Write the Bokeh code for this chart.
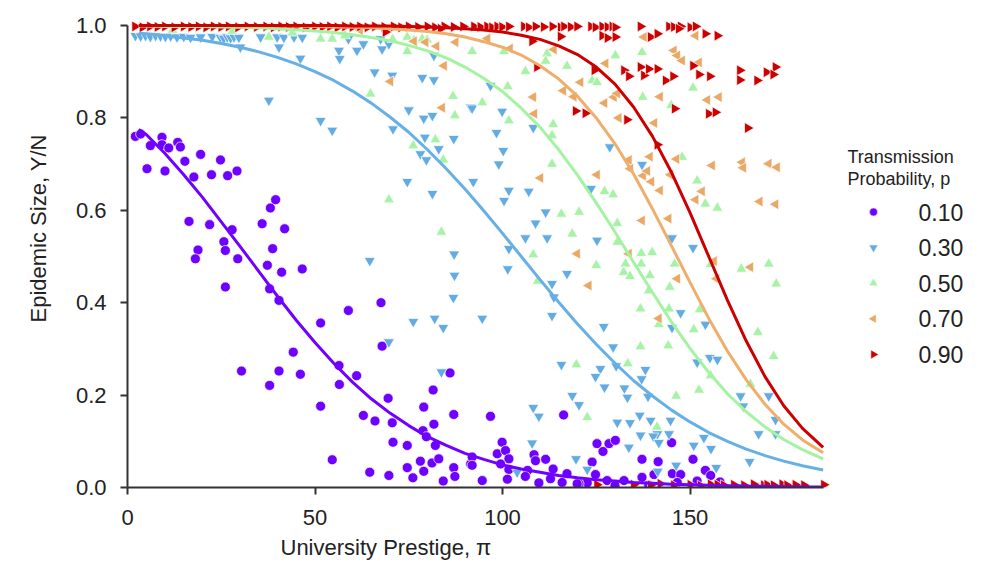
from bokeh.plotting import figure
from bokeh.models import Range1d, FixedTicker, Label, Title
from bokeh.embed import file_html
from bokeh.resources import INLINE
import math

# ---------------- data ----------------
x_ticks = [0, 50, 100, 150]
y_ticks = [0.0, 0.2, 0.4, 0.6, 0.8, 1.0]
y_tick_labels = ["0.0", "0.2", "0.4", "0.6", "0.8", "1.0"]
series_labels = ["0.10", "0.30", "0.50", "0.70", "0.90"]

curve_x = [3, 5, 10, 15, 20, 25, 30, 35, 40, 45, 50, 55, 60, 65, 70, 75, 80, 85, 90, 95, 100,
           105, 110, 115, 120, 125, 130, 135, 140, 145, 150, 155, 160, 165, 170, 175, 180, 185.5]
curve_p10 = [0.775, 0.764, 0.723, 0.677, 0.628, 0.575, 0.522, 0.468, 0.414, 0.362, 0.314, 0.269,
             0.228, 0.192, 0.161, 0.134, 0.110, 0.091, 0.074, 0.061, 0.049, 0.040, 0.033, 0.026,
             0.021, 0.017, 0.014, 0.011, 0.009, 0.007, 0.006, 0.005, 0.004, 0.003, 0.0025, 0.002,
             0.0016, 0.0013]
curve_p30 = [0.983, 0.982, 0.978, 0.973, 0.968, 0.961, 0.953, 0.943, 0.931, 0.917, 0.900, 0.881,
             0.858, 0.832, 0.802, 0.769, 0.731, 0.690, 0.646, 0.599, 0.550, 0.500, 0.450, 0.401,
             0.354, 0.310, 0.269, 0.231, 0.198, 0.168, 0.142, 0.119, 0.100, 0.083, 0.069, 0.057,
             0.047, 0.038]
curve_p50 = [0.999, 0.999, 0.998, 0.998, 0.998, 0.997, 0.996, 0.995, 0.993, 0.991, 0.988, 0.985,
             0.980, 0.974, 0.967, 0.957, 0.945, 0.930, 0.910, 0.886, 0.857, 0.821, 0.780, 0.731,
             0.676, 0.616, 0.553, 0.487, 0.422, 0.359, 0.301, 0.249, 0.203, 0.164, 0.131, 0.104,
             0.082, 0.062]
curve_p70 = [1.000, 1.000, 1.000, 1.000, 1.000, 1.000, 0.999, 0.999, 0.999, 0.999, 0.998, 0.997,
             0.996, 0.995, 0.993, 0.990, 0.987, 0.982, 0.975, 0.965, 0.953, 0.936, 0.913, 0.884,
             0.847, 0.800, 0.744, 0.678, 0.603, 0.524, 0.444, 0.366, 0.295, 0.233, 0.180, 0.137,
             0.103, 0.075]
curve_p90 = [1.000, 1.000, 1.000, 1.000, 1.000, 1.000, 1.000, 1.000, 1.000, 1.000, 1.000, 1.000,
             0.999, 0.999, 0.999, 0.998, 0.997, 0.995, 0.993, 0.990, 0.986, 0.979, 0.970, 0.956,
             0.937, 0.910, 0.873, 0.823, 0.760, 0.683, 0.595, 0.500, 0.405, 0.317, 0.240, 0.177,
             0.128, 0.087]

p10_x = [2.1, 3.5, 6.1, 9.2, 9.2, 11.0, 13.4, 14.1, 5.2, 10.0, 15.3, 19.5, 17.7, 22.4, 24.8, 26.7,
         29.2, 16.4, 21.9, 27.9, 25.7, 18.8, 26.1, 35.9, 38.1, 39.5, 41.9, 38.7, 18.1, 29.4, 26.1,
         37.3, 41.1, 46.6, 37.9, 40.4, 51.5, 58.9, 67.6, 67.9, 44.2, 30.4, 40.4, 46.1, 37.9, 56.4,
         61.1, 56.5, 51.5, 69.5, 62.9, 66.0, 70.6, 79.0, 81.5, 87.0, 86.0, 81.7, 78.8, 79.7, 70.8,
         74.6, 82.1, 78.1, 81.2, 83.0, 54.6, 64.6, 69.7, 74.6, 76.1, 79.0, 84.2, 87.0, 87.3, 91.5,
         96.8, 116.3, 99.9, 98.6, 100.8, 101.7, 99.5, 101.7, 91.9, 91.9, 94.6, 101.3, 108.4, 108.8,
         111.5, 106.7, 106.1, 109.7, 112.8, 113.5, 117.2, 115.9, 125.2, 126.8, 128.4, 130.1, 123.9,
         124.8, 122.6, 120.4, 137.2, 141.5, 145.1, 150.8, 137.2, 140.4, 145.3, 147.5, 154.1, 155.5,
         132.4, 127.9, 146.6, 151.9, 119.9, 130.0, 139.0, 158.0]
p10_y = [0.760, 0.765, 0.740, 0.758, 0.742, 0.735, 0.747, 0.737, 0.690, 0.685, 0.706, 0.721, 0.672,
         0.677, 0.709, 0.675, 0.685, 0.576, 0.569, 0.558, 0.532, 0.514, 0.513, 0.571, 0.605, 0.623,
         0.560, 0.517, 0.495, 0.495, 0.434, 0.481, 0.466, 0.473, 0.430, 0.405, 0.356, 0.383, 0.400,
         0.306, 0.293, 0.252, 0.252, 0.245, 0.221, 0.264, 0.242, 0.223, 0.176, 0.193, 0.156, 0.144,
         0.140, 0.174, 0.211, 0.158, 0.248, 0.137, 0.123, 0.110, 0.098, 0.091, 0.091, 0.057, 0.053,
         0.062, 0.060, 0.033, 0.026, 0.043, 0.021, 0.035, 0.014, 0.043, 0.024, 0.051, 0.154, 0.157,
         0.098, 0.073, 0.080, 0.062, 0.051, 0.039, 0.066, 0.048, 0.015, 0.018, 0.071, 0.058, 0.061,
         0.037, 0.024, 0.010, 0.019, 0.040, 0.030, 0.011, 0.095, 0.078, 0.095, 0.102, 0.055, 0.028,
         0.010, 0.008, 0.061, 0.056, 0.097, 0.061, 0.022, 0.028, 0.030, 0.028, 0.037, 0.026, 0.015,
         0.015, 0.011, 0.014, 0.008, 0.004, 0.005, 0.012]

p30_x = [2.1, 3.5, 4.8, 6.1, 7.5, 8.8, 10.1, 11.5, 13.2, 15.0, 16.8, 19.5, 22.6, 24.8, 25.7, 26.6,
         27.5, 28.4, 29.7, 30.1, 35.5, 40.4, 39.9, 41.7, 44.4, 46.6, 46.1, 56.4, 56.6, 58.9, 61.2,
         62.9, 67.5, 67.9, 69.7, 81.7, 65.9, 70.6, 78.6, 81.7, 37.7, 51.5, 54.6, 70.8, 75.0, 79.0,
         81.3, 87.0, 79.3, 83.0, 78.1, 79.7, 74.6, 81.3, 91.5, 96.8, 91.9, 99.9, 98.4, 108.2, 100.2,
         99.0, 128.6, 137.2, 92.2, 101.7, 100.4, 107.0, 123.6, 111.5, 108.8, 106.1, 111.9, 125.2,
         101.7, 150.8, 145.2, 87.2, 86.9, 94.6, 101.4, 113.2, 113.7, 117.2, 113.2, 127.0, 129.5,
         130.3, 115.7, 126.1, 124.8, 127.2, 138.1, 137.1, 118.6, 120.4, 108.2, 109.7, 107.9, 119.6,
         122.6, 132.5, 133.3, 138.8, 130.6, 134.0, 136.6, 139.5, 141.3, 136.8, 140.2, 141.7, 144.4,
         144.8, 133.7, 141.4, 147.5, 145.2, 154.1, 151.9, 155.3, 157.3, 146.3, 151.0, 153.7, 155.6,
         157.0, 163.5, 164.2, 171.0, 168.3, 172.8, 172.8, 165.9, 103.9, 64.6, 87.1, 76.2, 81.9,
         84.2, 69.7, 83.7]
p30_y = [0.978, 0.977, 0.978, 0.976, 0.978, 0.977, 0.976, 0.977, 0.975, 0.976, 0.974, 0.975, 0.976,
         0.974, 0.972, 0.975, 0.973, 0.975, 0.974, 0.953, 0.975, 0.953, 0.975, 0.974, 0.975, 0.974,
         0.929, 0.946, 0.928, 0.971, 0.946, 0.960, 0.971, 0.949, 0.960, 0.935, 0.899, 0.892, 0.887,
         0.882, 0.838, 0.794, 0.773, 0.776, 0.817, 0.799, 0.805, 0.755, 0.758, 0.733, 0.722, 0.709,
         0.662, 0.636, 0.823, 0.870, 0.821, 0.814, 0.768, 0.779, 0.729, 0.700, 0.737, 0.699, 0.662,
         0.643, 0.621, 0.641, 0.647, 0.596, 0.572, 0.540, 0.540, 0.535, 0.517, 0.519, 0.540, 0.459,
         0.411, 0.366, 0.473, 0.441, 0.412, 0.463, 0.372, 0.348, 0.304, 0.263, 0.266, 0.257, 0.240,
         0.217, 0.255, 0.235, 0.199, 0.179, 0.173, 0.154, 0.096, 0.062, 0.039, 0.215, 0.195, 0.197,
         0.141, 0.140, 0.156, 0.145, 0.116, 0.113, 0.111, 0.097, 0.116, 0.145, 0.087, 0.035, 0.378,
         0.346, 0.353, 0.271, 0.281, 0.277, 0.048, 0.091, 0.108, 0.084, 0.043, 0.198, 0.176, 0.198,
         0.116, 0.116, 0.147, 0.056, 0.033, 0.491, 0.505, 0.359, 0.366, 0.346, 0.315, 0.250]

p50_x = [37.7, 51.5, 54.6, 70.7, 74.6, 76.4, 78.6, 79.9, 64.8, 69.7, 74.6, 76.2, 82.1, 84.2, 86.8,
         87.3, 83.7, 91.9, 94.6, 101.4, 100.4, 101.7, 106.1, 111.9, 111.5, 117.2, 113.5, 113.2, 113.2,
         123.9, 125.2, 130.1, 137.2, 137.4, 150.8, 127.2, 129.5, 115.7, 120.4, 118.6, 130.6, 151.9,
         154.1, 157.3, 147.9, 145.0, 130.6, 108.2, 109.4, 125.0, 132.8, 132.3, 134.0, 137.0, 139.9,
         139.3, 137.0, 144.6, 145.9, 144.4, 139.0, 136.8, 152.6, 151.0, 155.5, 163.7, 171.0, 173.0,
         168.1, 172.3, 166.1, 119.7, 122.6, 136.8, 144.2, 133.4, 146.3, 141.2, 152.4, 141.7, 155.5,
         12.0, 28.0, 44.0, 58.0]
p50_y = [0.975, 0.971, 0.971, 0.970, 0.975, 0.968, 0.971, 0.969, 0.852, 0.623, 0.944, 0.740, 0.753,
         0.709, 0.847, 0.805, 0.553, 0.944, 0.833, 0.868, 0.944, 0.794, 0.901, 0.939, 0.923, 0.912,
         0.786, 0.762, 0.700, 0.881, 0.877, 0.935, 0.942, 0.845, 0.865, 0.641, 0.634, 0.592, 0.596,
         0.549, 0.531, 0.664, 0.614, 0.605, 0.715, 0.827, 0.572, 0.504, 0.447, 0.481, 0.484, 0.466,
         0.457, 0.507, 0.509, 0.459, 0.484, 0.434, 0.484, 0.387, 0.426, 0.387, 0.385, 0.342, 0.483,
         0.473, 0.484, 0.441, 0.336, 0.284, 0.224, 0.266, 0.152, 0.305, 0.307, 0.268, 0.198, 0.131,
         0.211, 0.353, 0.242, 0.990, 0.988, 0.984, 0.978]

p70_x = [76.4, 82.4, 87.5, 84.4, 70.1, 83.9, 79.5, 102.0, 113.7, 127.5, 137.7, 151.5, 145.7, 146.6,
         147.9, 152.4, 120.8, 116.2, 119.0, 108.2, 129.7, 130.6, 142.0, 154.6, 157.7, 127.2, 108.5,
         131.0, 140.5, 133.7, 139.3, 146.4, 155.9, 163.9, 164.2, 171.0, 173.2, 125.2, 110.1, 134.1,
         137.5, 138.6, 139.7, 142.0, 144.8, 144.3, 137.2, 153.2, 151.5, 168.6, 172.8, 119.9, 133.7,
         123.0, 146.6, 141.7, 166.1, 157.1, 156.4, 62.0, 96.0]
p70_y = [0.966, 0.955, 0.964, 0.913, 0.879, 0.822, 0.964, 0.950, 0.948, 0.918, 0.975, 0.978, 0.946,
         0.935, 0.924, 0.920, 0.877, 0.859, 0.846, 0.845, 0.845, 0.853, 0.846, 0.839, 0.845, 0.832,
         0.809, 0.800, 0.789, 0.709, 0.716, 0.711, 0.697, 0.704, 0.692, 0.701, 0.693, 0.677, 0.670,
         0.690, 0.675, 0.685, 0.662, 0.643, 0.677, 0.582, 0.578, 0.641, 0.623, 0.619, 0.613, 0.506,
         0.506, 0.437, 0.452, 0.366, 0.477, 0.452, 0.490, 0.990, 0.972]

p90_x = [2.0, 4.0, 6.0, 8.0, 10.0, 12.5, 15.0, 17.0, 19.0, 21.0, 23.0, 25.0, 27.0, 29.5, 32.0, 34.5,
         37.0, 39.0, 41.0, 43.0, 45.0, 47.5, 50.0, 52.0, 54.0, 56.0, 58.0, 60.0, 62.0, 64.0, 66.0,
         68.5, 71.0, 73.0, 75.0, 77.5, 80.0, 82.0, 84.5, 87.0, 89.5, 92.4, 94.1, 95.9, 97.2, 98.6,
         99.9, 101.7, 105.7, 107.0, 108.8, 111.0, 113.3, 115.5, 116.4, 118.2, 119.9, 123.6, 124.8,
         126.6, 128.0, 129.3, 130.1, 136.8, 144.4, 145.7, 147.5, 150.1, 151.5, 68.8, 83.5, 107.9,
         115.5, 126.6, 128.0, 130.1, 139.5, 141.3, 147.0, 154.1, 157.3, 109.2, 124.5, 132.4, 133.7,
         136.8, 137.7, 139.0, 141.3, 143.5, 145.5, 150.8, 152.4, 155.3, 163.3, 163.3, 167.9, 170.4,
         172.8, 172.2, 119.5, 122.1, 133.2, 145.9, 155.0, 156.8, 165.4, 141.3, 125.2, 135.0, 139.5,
         142.1, 145.7, 150.1, 152.8, 155.5, 157.3, 159.0, 161.7, 164.4, 167.0, 169.7, 170.6, 172.3,
         174.6, 175.9, 178.1, 180.4, 185.7]
p90_y = [0.998, 0.996, 0.998, 0.997, 0.998, 0.996, 0.998, 0.997, 0.998, 0.996, 0.998, 0.997, 0.998,
         0.996, 0.998, 0.997, 0.998, 0.996, 0.998, 0.997, 0.998, 0.996, 0.998, 0.997, 0.998, 0.996,
         0.998, 0.997, 0.998, 0.996, 0.998, 0.997, 0.998, 0.996, 0.998, 0.997, 0.998, 0.996, 0.998,
         0.997, 0.998, 0.998, 0.997, 0.998, 0.996, 0.998, 0.997, 0.998, 0.998, 0.996, 0.998, 0.997,
         0.998, 0.996, 0.998, 0.997, 0.998, 0.998, 0.996, 0.998, 0.997, 0.998, 0.996, 0.998, 0.998,
         0.997, 0.998, 0.996, 0.998, 0.986, 0.993, 0.966, 0.976, 0.978, 0.973, 0.975, 0.975, 0.982,
         0.993, 0.982, 0.978, 0.910, 0.903, 0.903, 0.890, 0.910, 0.892, 0.906, 0.906, 0.881, 0.890,
         0.913, 0.894, 0.890, 0.903, 0.882, 0.881, 0.899, 0.910, 0.894, 0.815, 0.810, 0.796, 0.820,
         0.809, 0.812, 0.778, 0.742, 0.006, 0.006, 0.005, 0.008, 0.005, 0.006, 0.004, 0.007, 0.006,
         0.005, 0.006, 0.005, 0.007, 0.005, 0.006, 0.005, 0.007, 0.005, 0.006, 0.005, 0.006]

# ---------------- styling ----------------
FONT = "Liberation Sans"
TXT = "#222222"
colors_pts = ["#6e00ff", "#62abe3", "#a8f2a8", "#eaa866", "#cc0000"]
colors_line = ["#7000ff", "#66b0e6", "#a3f3a3", "#efae6c", "#cc0000"]
markers = ["circle", "inverted_triangle", "triangle", "triangle", "triangle"]
angles = [0.0, 0.0, 0.0, math.pi / 2, -math.pi / 2]

W, H = 977, 571
FRAME_L, FRAME_B = 127, 487          # pixel positions of x=0 and y=0
BR, BT = 10, 13
PX_PER_X = 3.75
PX_PER_Y = 462.0
x_end = (W - BR - FRAME_L) / PX_PER_X
y_end = (FRAME_B - BT) / PX_PER_Y


def dx(px):
    return (px - FRAME_L) / PX_PER_X


def dy(py):
    return (FRAME_B - py) / PX_PER_Y


p = figure(width=W, height=H, output_backend="svg", toolbar_location=None,
           x_range=Range1d(0, x_end), y_range=Range1d(0, y_end),
           min_border_left=FRAME_L, min_border_right=BR, min_border_top=BT,
           min_border_bottom=H - FRAME_B)
p.xgrid.visible = False
p.ygrid.visible = False
p.outline_line_color = None
p.background_fill_color = "white"
p.border_fill_color = "white"

for ax in (p.xaxis[0], p.yaxis[0]):
    ax.axis_line_color = "#333333"
    ax.axis_line_width = 2
    ax.major_tick_line_color = "#333333"
    ax.major_tick_line_width = 2
    ax.major_tick_in = 0
    ax.major_tick_out = 7
    ax.minor_tick_line_color = None
    ax.major_label_text_font = FONT
    ax.major_label_text_font_size = "22px"
    ax.major_label_text_color = TXT

p.xaxis.ticker = FixedTicker(ticks=x_ticks)
p.xaxis.bounds = (0, 185.5)
p.xaxis.major_label_standoff = 15
p.yaxis.ticker = FixedTicker(ticks=y_ticks)
p.yaxis.bounds = (0, 1)
p.yaxis.major_label_overrides = {t: s for t, s in zip(y_ticks, y_tick_labels)}
p.yaxis.major_label_standoff = 14

# scatter points
pts = [(p10_x, p10_y), (p30_x, p30_y), (p50_x, p50_y), (p70_x, p70_y), (p90_x, p90_y)]
for i, (xs, ys) in enumerate(pts):
    p.scatter(xs, ys, marker=markers[i], angle=angles[i],
              size=10 if markers[i] == "circle" else 11,
              fill_color=colors_pts[i], line_color="white", line_width=0.7)

# fitted curves
curves = [curve_p10, curve_p30, curve_p50, curve_p70, curve_p90]
for i, cy in enumerate(curves):
    p.line(curve_x, cy, line_color=colors_line[i], line_width=3)

# legend (drawn manually so the rotated triangles keep their orientation)
LEG_GLYPH_X, LEG_LABEL_X, LEG_Y0, LEG_DY = 873, 918, 211.5, 35.6
p.add_layout(Label(x=dx(847), y=dy(156), text="Transmission", text_align="left",
                   text_baseline="middle", text_font=FONT, text_font_size="18px",
                   text_color=TXT))
p.add_layout(Label(x=dx(847), y=dy(178), text="Probability, p", text_align="left",
                   text_baseline="middle", text_font=FONT, text_font_size="18px",
                   text_color=TXT))
for i, lab in enumerate(series_labels):
    yy = dy(LEG_Y0 + i * LEG_DY)
    p.scatter([dx(LEG_GLYPH_X)], [yy], marker=markers[i], angle=angles[i],
              size=8 if markers[i] == "circle" else 9,
              fill_color=colors_pts[i], line_color="white", line_width=0.5)
    p.add_layout(Label(x=dx(LEG_LABEL_X), y=yy, text=lab, text_align="left",
                       text_baseline="middle", text_font=FONT, text_font_size="23px",
                       text_color=TXT))

# axis titles (placed with offsets like in the reference)
p.add_layout(Title(text="University Prestige, \u03c0", align="left", offset=153, standoff=11,
                   text_font=FONT, text_font_size="22px", text_font_style="normal",
                   text_color=TXT), "below")
p.add_layout(Title(text="Epidemic Size, Y/N", align="left", offset=165, standoff=43,
                   text_font=FONT, text_font_size="22px", text_font_style="normal",
                   text_color=TXT), "left")

open("out.html", "w").write(file_html(p, INLINE))
